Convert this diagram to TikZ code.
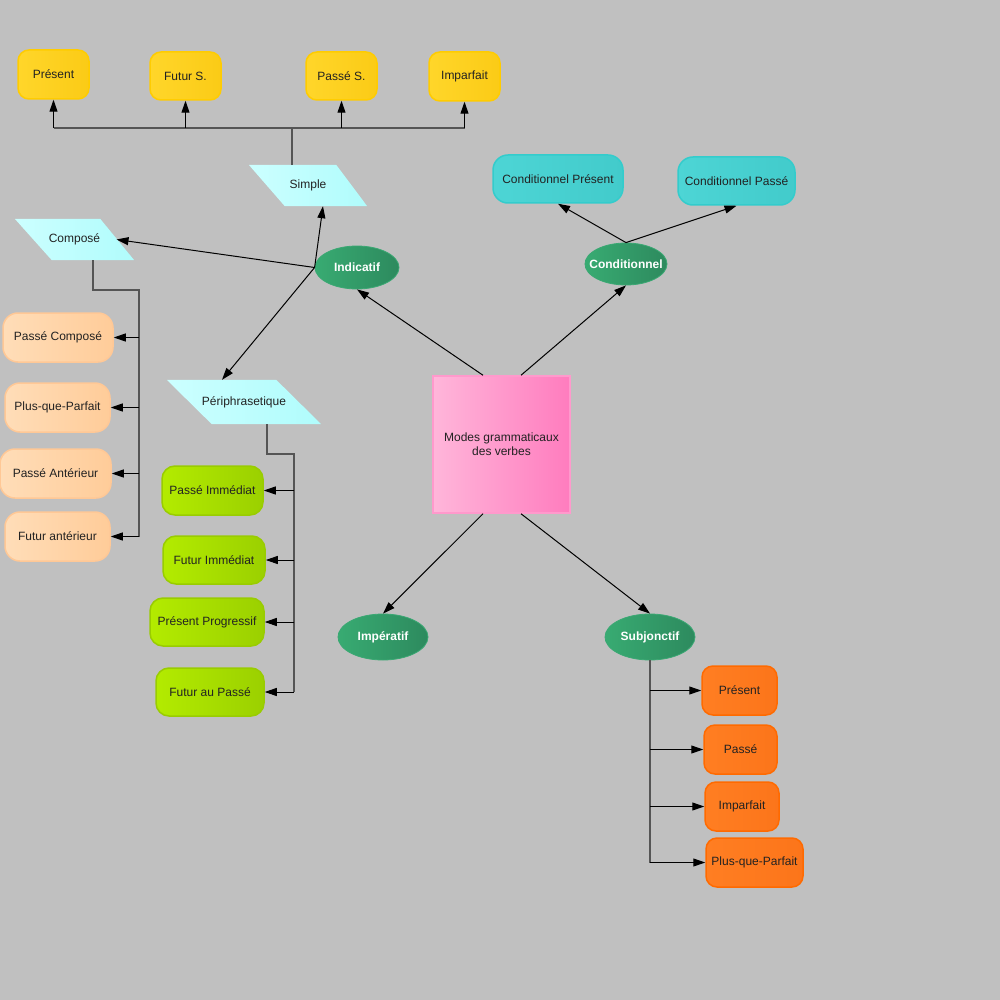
\documentclass[tikz,border=0pt]{standalone}
\usepackage{fontspec}
\setmainfont{Liberation Sans}
\usetikzlibrary{shapes.geometric,arrows.meta,calc}
\definecolor{bg}{HTML}{C0C0C0}
\definecolor{txt}{HTML}{222222}
\definecolor{yelA}{HTML}{FFD62A}
\definecolor{yelB}{HTML}{FBCB16}
\definecolor{yelD}{HTML}{FFCC00}
\definecolor{cyA}{HTML}{CCFFFF}
\definecolor{cyB}{HTML}{B0FCFC}
\definecolor{grA}{HTML}{38AB72}
\definecolor{grB}{HTML}{2D8A5E}
\definecolor{grD}{HTML}{3AA873}
\definecolor{tqA}{HTML}{4DD5D5}
\definecolor{tqB}{HTML}{42CBCB}
\definecolor{tqD}{HTML}{33CCCC}
\definecolor{pkA}{HTML}{FFB6DA}
\definecolor{pkB}{HTML}{FF7CBE}
\definecolor{pkD}{HTML}{FF99CC}
\definecolor{peA}{HTML}{FFDDB8}
\definecolor{peB}{HTML}{FFCC99}
\definecolor{peD}{HTML}{FFC896}
\definecolor{lmA}{HTML}{B3EB00}
\definecolor{lmB}{HTML}{9BD000}
\definecolor{lmD}{HTML}{99CC00}
\definecolor{orA}{HTML}{FF7E22}
\definecolor{orB}{HTML}{FC751A}
\definecolor{orD}{HTML}{FF6A00}
\definecolor{elb}{HTML}{555555}
\pgfdeclarelayer{backlayer}
\pgfdeclarelayer{shapelayer}
\pgfsetlayers{backlayer,shapelayer,main}
\begin{document}
\begin{tikzpicture}[x=1pt,y=-1pt,
  every node/.style={font=\fontsize{12}{14}\selectfont, text=txt, inner sep=0pt},
  rbox/.style={rectangle, rounded corners=11pt, line width=1.5pt, minimum height=48pt},
  ybox/.style={rbox, draw=yelD, left color=yelA, right color=yelB},
  tbox/.style={rbox, rounded corners=15pt, draw=tqD, left color=tqA, right color=tqB},
  pbox/.style={rbox, rounded corners=15pt, draw=peD, left color=peA, right color=peB},
  lbox/.style={rbox, rounded corners=13pt, draw=lmD, left color=lmA, right color=lmB},
  obox/.style={rbox, rounded corners=11pt, draw=orD, left color=orA, right color=orB},
  mode/.style={ellipse, draw=grD, line width=0.8pt, left color=grA, right color=grB, text=white, font=\fontsize{12}{14}\selectfont\bfseries},
  para/.style={rectangle, minimum height=41pt},
  parafill/.style={left color=cyA, right color=cyB},
  arr/.style={black, line width=1pt, -{Triangle[length=12pt,width=8pt]}},
  elbow/.style={elb, line width=2pt}
]
\begin{pgfonlayer}{backlayer}
\fill[bg] (0,0) rectangle (1000,1000);
\end{pgfonlayer}
\useasboundingbox (0,0) rectangle (1000,1000);

% top yellow boxes
\node[ybox, minimum width=71pt, minimum height=49pt] (present) at (53.5,74.5) {Présent};
\node[ybox, minimum width=71pt] (futurs) at (185.5,76) {Futur S.};
\node[ybox, minimum width=71pt] (passes) at (341.5,76) {Passé S.};
\node[ybox, minimum width=71pt, minimum height=49pt] (imparfait) at (464.5,76.5) {Imparfait};

% parallelograms (text nodes; outlines drawn on the shape layer)
\node[para, minimum width=118pt] (simple) at (308,185.5) {Simple};
\node[para, minimum width=119pt] (compose) at (74.5,239.5) {Composé};
\node[para, minimum width=154pt, minimum height=44pt] (periph) at (244,402) {Périphrasetique};
\begin{pgfonlayer}{shapelayer}
\shade[parafill] (simple.north west) -- ([xshift=-31pt]simple.north east) -- (simple.south east) -- ([xshift=36pt]simple.south west) -- cycle;
\shade[parafill] (compose.north west) -- ([xshift=-34pt]compose.north east) -- (compose.south east) -- ([xshift=37pt]compose.south west) -- cycle;
\shade[parafill] (periph.north west) -- ([xshift=-45pt]periph.north east) -- (periph.south east) -- ([xshift=45pt]periph.south west) -- cycle;
\end{pgfonlayer}

% conditionnel boxes
\node[tbox, minimum width=130pt] (cpres) at (558,179) {Conditionnel Présent};
\node[tbox, minimum width=117pt] (cpass) at (736.5,181) {Conditionnel Passé};

% modes
\node[mode, minimum width=84pt, minimum height=43pt] (indicatif) at (357,267.5) {\makebox[0pt]{Indicatif}};
\node[mode, minimum width=82pt, minimum height=42pt] (conditionnel) at (626,264) {\makebox[0pt]{Conditionnel}};
\node[mode, minimum width=90pt, minimum height=46pt] (imperatif) at (383,637) {\makebox[0pt]{Impératif}};
\node[mode, minimum width=90pt, minimum height=46pt] (subjonctif) at (650,637) {\makebox[0pt]{Subjonctif}};

% central square
\node[rectangle, draw=pkD, line width=1.5pt, left color=pkA, right color=pkB, minimum width=137pt, minimum height=137pt, align=center, text=txt] (modes) at (501.5,444.5) {Modes grammaticaux\\des verbes};

% peach boxes
\node[pbox, minimum width=110pt, minimum height=49pt] (pc) at (58,337.5) {Passé Composé};
\node[pbox, minimum width=105pt, minimum height=49pt] (pqp) at (57.5,407.5) {Plus-que-Parfait};
\node[pbox, minimum width=111pt, minimum height=49pt] (pa) at (55.5,473.5) {Passé Antérieur};
\node[pbox, minimum width=105pt, minimum height=49pt] (fa) at (57.5,536.5) {Futur antérieur};

% lime boxes
\node[lbox, minimum width=101pt, minimum height=49pt] (pimm) at (212.5,490.5) {Passé Immédiat};
\node[lbox, minimum width=102pt] (fimm) at (214,560) {Futur Immédiat};
\node[lbox, minimum width=114pt] (pprog) at (207,622) {Présent Progressif};
\node[lbox, minimum width=108pt] (fpass) at (210,692) {Futur au Passé};

% orange boxes
\node[obox, minimum width=75pt, minimum height=49pt] (spres) at (739.5,690.5) {Présent};
\node[obox, minimum width=73pt, minimum height=49pt] (spass) at (740.5,749.5) {Passé};
\node[obox, minimum width=74pt, minimum height=49pt] (simp) at (742,806.5) {Imparfait};
\node[obox, minimum width=97pt, minimum height=49pt] (spqp) at (754.5,862.5) {Plus-que-Parfait};

% anchor points on the parallelogram edges
\coordinate (simpleT) at ([xshift=-16pt]simple.north);
\coordinate (simpleB) at ([xshift=15pt]simple.south);
\coordinate (composeR) at ([xshift=42pt]compose.center);
\coordinate (composeB) at ([xshift=18.5pt]compose.south);
\coordinate (periphT) at ([xshift=-22pt]periph.north);
\coordinate (periphB) at ([xshift=22.5pt]periph.south);

% central connectors
\draw[arr] ([xshift=-18.5pt]modes.north) -- (indicatif.south);
\draw[arr] ([xshift=19.5pt]modes.north) -- (conditionnel.south);
\draw[arr] ([xshift=-18.5pt]modes.south) -- (imperatif.north);
\draw[arr] ([xshift=19.5pt]modes.south) -- (subjonctif.north);

% conditionnel
\draw[arr] (conditionnel.north) -- (cpres.south);
\draw[arr] (conditionnel.north) -- (cpass.south);

% indicatif
\draw[arr] (indicatif.west) -- (composeR);
\draw[arr] (indicatif.west) -- (simpleB);
\draw[arr] (indicatif.west) -- (periphT);

% simple tree
\coordinate (sbar) at (291,128);
\draw[elbow] (simpleT) -- (simpleT |- sbar);
\draw[elbow] (present.south |- sbar) -- (imparfait.south |- sbar);
\draw[arr] (present.south |- sbar) -- (present.south);
\draw[arr] (futurs.south |- sbar) -- (futurs.south);
\draw[arr] (passes.south |- sbar) -- (passes.south);
\draw[arr] (imparfait.south |- sbar) -- (imparfait.south);

% compose tree
\coordinate (cbar) at (139,290);
\draw[elbow] (composeB) |- (cbar) -- (cbar |- fa.east);
\draw[arr] (cbar |- pc.east) -- (pc.east);
\draw[arr] (cbar |- pqp.east) -- (pqp.east);
\draw[arr] (cbar |- pa.east) -- (pa.east);
\draw[arr] (cbar |- fa.east) -- (fa.east);

% periphrasetique tree
\coordinate (pbar) at (294,454);
\draw[elbow] (periphB) |- (pbar) -- (pbar |- fpass.east);
\draw[arr] (pbar |- pimm.east) -- (pimm.east);
\draw[arr] (pbar |- fimm.east) -- (fimm.east);
\draw[arr] (pbar |- pprog.east) -- (pprog.east);
\draw[arr] (pbar |- fpass.east) -- (fpass.east);

% subjonctif tree
\draw[elbow] (subjonctif.south) -- (subjonctif.south |- spqp.west);
\draw[arr] (subjonctif.south |- spres.west) -- (spres.west);
\draw[arr] (subjonctif.south |- spass.west) -- (spass.west);
\draw[arr] (subjonctif.south |- simp.west) -- (simp.west);
\draw[arr] (subjonctif.south |- spqp.west) -- (spqp.west);
\end{tikzpicture}
\end{document}
